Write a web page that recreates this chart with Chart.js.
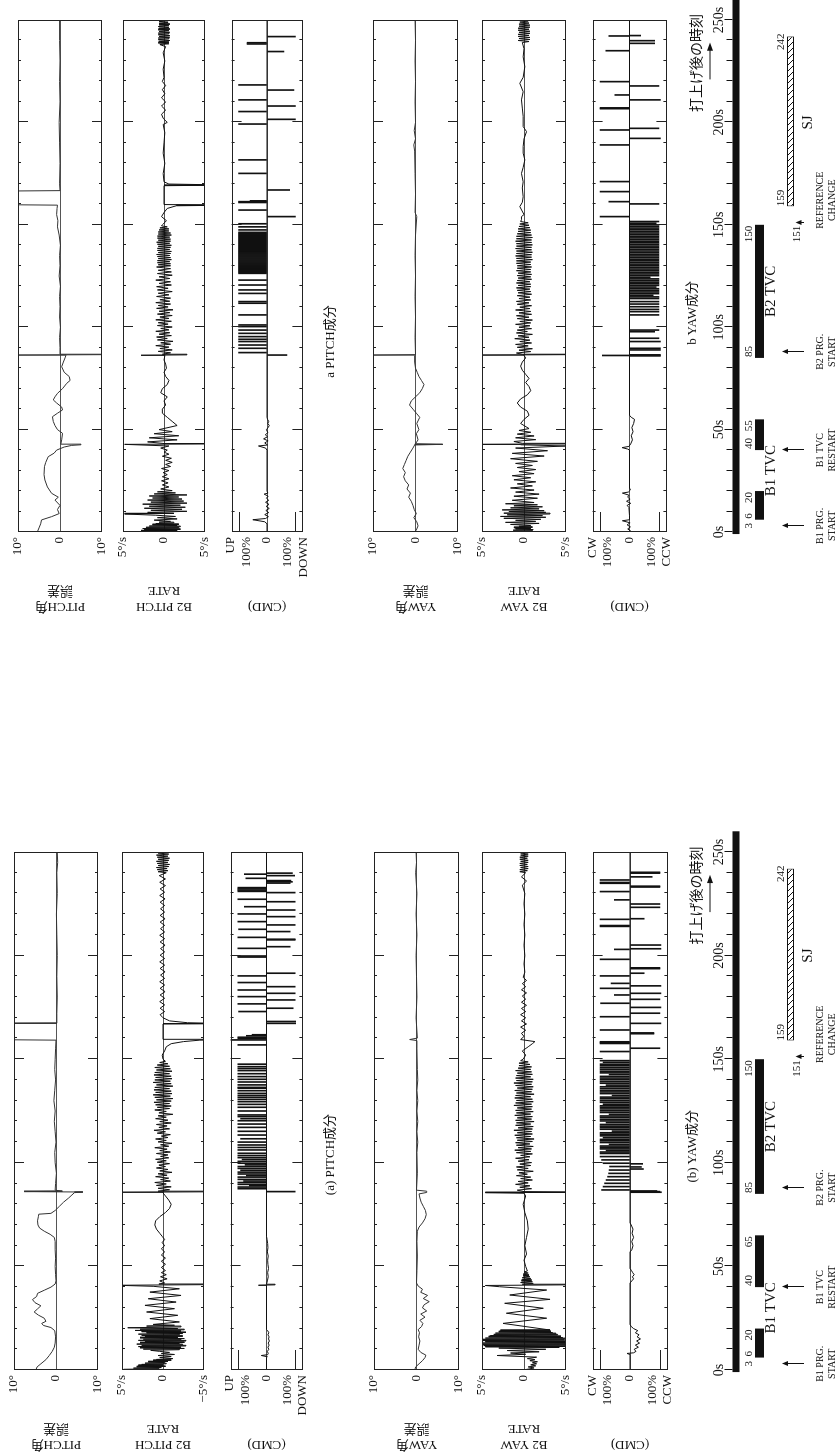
<!DOCTYPE html>
<html>
<head>
<meta charset="utf-8">
<script src="https://cdn.jsdelivr.net/npm/chart.js@4.4.1/dist/chart.umd.min.js"></script>
<style>
  body { margin: 0; background: #fff; }
  #page { position: relative; width: 836px; height: 1455px; overflow: hidden; background: #fff; }
  .fig { position: absolute; left: 106px; width: 624px; height: 836px; transform: rotate(-90deg); transform-origin: 312px 418px; }
  .fig canvas { position: absolute; left: 0; }
  .cap { position: absolute; transform: translate(-50%, -50%); white-space: nowrap; font: 13px 'Liberation Serif', 'Noto Sans CJK JP', serif; color: #111; }
</style>
</head>
<body>
<div id="page">
  <div class="fig" id="figB" style="top:-113px"></div>
  <div class="fig" id="figA" style="top:725px"></div>
</div>
<script>
// ---------- shared labels ----------
const timeLabelAt = [0, 50, 100, 150, 200, 250];
const timeLabels = ['0s', '50s', '100s', '150s', '200s', '250s'];
const eventLabels = [['B1 PRG.', 'START'], ['B1 TVC', 'RESTART'], ['B2 PRG.', 'START'], ['REFERENCE', 'CHANGE']];

// ---------- lower figure (A) ----------
const pitchErrA = [[0,4.8],[1.5,4.5],[3,3.6],[5,2.4],[7,1.6],[9,0.9],[11,0.4],[13,0.2],[16,0.1],[19,0.3],[20.5,1.2],[21.5,3],[22.5,3.4],[23.5,2.4],[25,2.8],[26.5,4.2],[28,5.2],[29.5,4.4],[31,3.6],[32.5,5],[34,5.6],[35.5,4.6],[37,4.4],[38.5,2.8],[40,1.2],[41.5,0.2],[43,0],[46,0.1],[50,0.2],[54,0.1],[58,0.2],[62,0.2],[64,0.4],[65.5,1.4],[67,2.8],[68.5,3.9],[70,4.3],[72,4.4],[74,4.2],[75.2,4.1],[75.6,1.2],[77,0.2],[79,-0.8],[81,-1.8],[83,-3],[84.5,-3.8],[85.6,-4.4],[85.9,-6.4],[86.1,7.6],[86.3,-1.5],[86.8,0.2],[90,0.1],[95,-0.1],[100,0.2],[105,0.3],[110,0],[115,0.2],[120,0.4],[125,0.2],[130,0.5],[135,0.3],[140,0.1],[145,0.3],[150,0.2],[155,0.1],[159.2,0],[159.4,12],[167.2,12],[167.4,-0.2],[172,-0.2],[180,-0.3],[190,-0.2],[200,-0.3],[210,-0.2],[220,-0.1],[230,-0.3],[240,-0.2],[245,-0.4],[250,-0.3]];

const pitchRateA = [[0,0],[0.3,4.8],[0.6,0.5],[0.9,3.6],[1.2,0.2],[1.5,3.2],[1.8,-0.3],[2.1,3],[2.4,0],[2.7,2.6],[3,-0.4],[3.3,2.2],[3.6,-0.2],[3.9,1.8],[4.2,-0.6],[4.5,1.2],[4.8,-1],[5.1,0.8],[5.5,-1.2],[6,0.4],[6.5,-1],[7,0.6],[7.5,-1.4],[8,0.2],[8.5,-0.8],[9,0.4],
[9.5,1.5],[9.8,-2],[10.1,2.4],[10.4,-2.6],[10.7,2.8],[11,-2.2],[11.3,3],[11.6,-2.8],[11.9,2.6],[12.2,-2.4],[12.5,3.2],[12.8,-2],[13.1,2.8],[13.4,-2.6],[13.7,2.2],[14,-2.8],[14.3,3],[14.6,-2.2],[14.9,2.4],[15.2,-2.6],[15.5,2.8],[15.8,-1.8],[16.1,2.2],[16.4,-2.4],[16.7,2.6],[17,-2],[17.3,3],[17.6,-2.4],[17.9,2],[18.2,-2.8],[18.5,2.6],[18.8,-2.2],[19.1,3.4],[19.4,-2.6],[19.7,2.8],[20,-1.8],[20.4,4.3],[20.8,-2.2],[21.2,2],[21.6,-1.4],[22,1.2],
[23.2,-2],[24.8,1.6],[26.4,-1.8],[28,2],[29.6,-1.4],[31.2,2.2],[32.8,-1.6],[34.4,1.8],[36,-2.2],[37.6,1.6],[39.2,-2],[40.4,1.2],[40.9,5.5],[41.2,-5.5],[41.5,0.5],
[42,-0.2],[43,0.4],[44,-0.5],[45,0.3],[46,-0.4],[47,0.2],[48,-0.3],[49.5,0.2],[51,-0.3],[52.5,0.2],[54,-0.3],[55.5,0.2],[57,-0.2],[58.5,0.2],[60,-0.2],[61.5,0.1],[63,-0.2],[64.5,0.1],
[66,0.4],[68,0.8],[70,1],[72,0.9],[74,0.4],[76,-0.3],[78,-0.8],[80,-1],[82,-0.7],[84,-0.3],[85.5,0],[85.8,5.5],[86,-5.5],[86.3,0.6],
[87,-0.8],[87.7,0.6],[88.4,-1],[89.1,0.8],[89.8,-0.4],[90.5,1],[91.2,-0.9],[91.9,0.3],[92.6,-0.7],[93.3,0.9],[94,-0.5],[94.7,0.6],[95.4,-1.1],[96.1,0.4],[96.8,-0.6],[97.5,0.8],[98.2,-0.3],[98.9,0.5],[99.6,-0.8],[100.3,0.7],[101,-0.4],[101.7,0.9],[102.4,-0.7],[103.1,0.3],[103.8,-0.6],[104.5,0.8],[105.2,-0.9],[105.9,0.4],[106.6,-0.5],[107.3,1],[108,-0.7],[108.7,0.3],[109.4,-1.1],[110.1,0.6],[110.8,-0.4],[111.5,0.9],[112.2,-0.6],[112.9,0.2],[113.6,-0.9],[114.3,0.7],[115,-0.3],[115.7,1.1],[116.4,-0.8],[117.1,0.5],[117.8,-0.5],[118.5,0.8],[119.2,-1],[119.9,0.4],[120.6,-0.6],[121.3,0.9],[122,-0.4],[122.7,0.6],[123.4,-1.2],[124.1,0.5],[124.8,-0.4],[125.5,1],[126.2,-0.8],[126.8,0.7],[127.4,-1],[128,0.9],[128.6,-0.8],[129.2,1.1],[129.8,-1],[130.4,0.8],[131,-1.2],[131.6,1],[132.2,-0.9],[132.8,1.2],[133.4,-1.1],[134,0.9],[134.6,-1],[135.2,1.1],[135.8,-0.8],[136.4,1],[137,-1.2],[137.6,0.8],[138.2,-1],[138.8,1.2],[139.4,-0.9],[140,1],[140.6,-1.1],[141.2,0.9],[141.8,-1],[142.4,1.1],[143,-0.8],[143.6,1],[144.2,-1.1],[144.8,0.8],[145.4,-0.9],[146,1],[146.6,-0.8],[147.2,0.7],[147.8,-0.6],[148.4,0.4],[149,-0.3],
[150,0],[152,0.1],[154,-0.2],[156,-0.4],[157.5,-1],[158.5,-2.5],[159.2,-4.5],[159.4,-8],[159.6,0],[167,0],[167.2,-8],[167.6,-3],[168.5,-0.8],[170,0],
[171.5,0.35],[173,-0.2],[174.6,0.35],[176.2,-0.2],[177.8,0.4],[179.4,-0.2],[181,0.35],[182.6,-0.25],[184.2,0.35],[185.8,-0.2],[187.4,0.4],[189,-0.2],[190.6,0.3],[192.2,-0.25],[193.8,0.35],[195.4,-0.2],[197,0.4],[198.6,-0.2],[200.2,0.35],[201.8,-0.2],[203.4,0.3],[205,-0.25],[206.6,0.35],[208.2,-0.2],[209.8,0.4],[211.4,-0.2],[213,0.3],[214.6,-0.2],[216.2,0.35],[217.8,-0.25],[219.4,0.35],[221,-0.2],[222.6,0.3],[224.2,-0.2],[225.8,0.35],[227.4,-0.25],[229,0.4],[230.6,-0.2],[232.2,0.35],[233.8,-0.3],[235.4,0.4],[237,-0.3],[238.6,0.45],[240,-0.4],
[240.5,0.6],[241,-0.6],[241.5,0.7],[242,-0.5],[242.5,0.8],[243,-0.7],[243.5,0.6],[244,-0.8],[244.5,0.7],[245,-0.6],[245.5,0.8],[246,-0.7],[246.5,0.6],[247,-0.8],[247.5,0.7],[248,-0.6],[248.5,0.8],[249,-0.7],[249.5,0.6],[250,-0.5]];

const pitchCmdA = [[0,0],[6,0],[6.4,-3],[7,18],[7.4,-4],[8,-6],[9,-3],[10,-8],[11,-5],[12,-9],[13,-6],[14,-10],[15,-7],[16,-9],[17,-5],[18,-8],[19,-4],[19.5,0],[40.6,0],[40.9,28],[41.1,-30],[41.4,0],[43,-3],[45,-6],[47,-4],[49,-7],[51,-5],[53,-4],[55,-6],[57,-3],[59,-5],[61,-4],[63,-2],[64.5,0],[250,0]];

const pitchPulseA = [[86.1,-100],[87.5,100],[88.3,100],[89,60],[89.6,100],[90.5,100],[91.2,80],[92,100],[93.1,100],[93.8,70],[94.6,100],[95.5,100],[96.4,90],[97.3,100],[98.2,100],[99,75],[99.8,100],[100.7,100],[101.6,85],[102.5,100],[103.5,100],[104.6,100],[106.2,100],[107.4,100],[108.6,100],[110,100],[111.6,90],[113.4,100],[115.2,100],[117.1,100],[118.7,100],[120.3,100],[121.3,90],[122.3,100],[123.1,100],[125,100],[126.8,100],[128.2,100],[129.5,100],[130.6,100],[131.6,100],[132.5,100],[133.5,100],[134.8,100],[136,100],[136.4,100],[137.6,100],[139,100],[140.3,100],[141.6,100],[143,100],[144.5,100],[145.5,100],[146.4,100],[147.6,100],
[156.9,100],[159.3,125],[160,100],[160.6,100],[161.3,70],[161.8,50],[167.3,-102],[168.2,-102],[173,97],[174.6,-93],[176.7,100],[178.6,-100],[180.2,100],[181.8,-100],[183.4,100],[185,-100],[187,100],[190.2,100],[191.5,-100],[199.3,100],[199.8,100],[203.5,100],[204.3,-82],[207.6,-100],[207.9,-100],[208.8,100],[211.6,-82],[212.7,97],[214.8,-100],[216.4,100],[218.8,-100],[220.1,100],[222,-100],[223.6,77],[226,-100],[227.2,100],[230.4,-100],[231,100],[231.6,100],[232.2,100],[232.8,100],[235,-82],[235.6,-90],[236.2,-85],[237.3,72],[238.6,-98],[239.3,77],[239.8,-90]];

const yawErrA = [[0,0.4],[1.5,0.2],[3,-0.6],[4.5,-1.4],[6,-2],[7.2,-2.2],[8.5,-1],[10,-0.4],[12,-0.6],[14,-0.8],[16,-0.5],[18,-0.7],[19.5,-0.4],[21,-1.2],[22.5,-1.5],[24,-0.8],[25.5,-2],[27,-1],[28.5,-2.4],[30,-1.4],[31.5,-1.8],[33,-3],[34.5,-1.6],[36,-2.6],[37.5,-1],[39,-1.4],[40.5,-0.4],[42,0],[48,-0.1],[55,-0.2],[62,-0.1],[67,-0.2],[69,-0.6],[71,-1.4],[73,-2],[75,-2.3],[77,-2.1],[79,-1.6],[81,-1.1],[83,-0.8],[85,-0.6],[85.7,-2.4],[86.3,-2.4],[86.8,0],[95,-0.2],[105,-0.1],[110,-0.3],[115,-0.1],[120,-0.3],[125,-0.1],[130,-0.3],[135,-0.1],[140,-0.3],[145,-0.2],[155,-0.1],[159,-0.1],[159.5,1.6],[160.2,-0.2],[170,0.1],[180,-0.1],[190,0],[200,0.1],[210,-0.1],[220,0.1],[230,-0.1],[240,0.2],[245,0],[250,0.1]];

const yawRateA = [[0,0.1],[0.5,-0.6],[1,-1.2],[1.5,-0.5],[2,-1.4],[2.5,-0.8],[3,-1.5],[3.5,-1],[4,-1.6],[4.5,-0.7],[5,-1.3],[5.5,-0.4],[6.2,-1.5],[7,3.2],[7.6,-0.2],[8.2,1.6],[8.8,-1.8],[9.4,2],[10,-2.6],[10.6,3],[10.9,-4.2],[11.2,4.6],[11.5,-5.2],[11.8,4.8],[12.1,-5.4],[12.4,5],[12.7,-5],[13,5.2],[13.3,-5.4],[13.6,4.6],[13.9,-5.2],[14.2,5],[14.5,-4.8],[14.8,5.2],[15.1,-5],[15.4,4.6],[15.7,-4.6],[16,4.2],[16.3,-4.4],[16.6,4],[16.9,-4],[17.2,3.6],[17.5,-3.8],[17.8,3.4],[18.1,-3.4],[18.4,3],[18.7,-3.2],[19,2.8],[19.3,-3.1],
[22.5,2.5],[25,-2.7],[27.4,2.1],[29.8,-2.3],[32.2,2.3],[34.1,-3.1],[36.2,1.7],[38.6,-2.7],[40.2,2.9],[40.8,4.6],[41.1,-5],[41.4,0.2],
[41.8,-1.1],[42.2,0.4],[42.6,-1],[43,0.3],[43.4,-0.9],[43.8,0.2],[44.2,-0.8],[44.6,0.2],[45,-0.7],[45.4,0.1],[45.8,-0.6],[46.3,0.1],[46.8,-0.5],[47.3,0],[47.8,-0.4],
[50,-0.2],[53,0],[56,-0.3],[60,-0.1],[64,-0.3],[68,-0.5],[72,-0.4],[76,-0.1],[80,0.1],[84,-0.2],[85.3,0],[85.6,4.6],[85.8,-5],[86.1,0],
[86.8,0.8],[87.5,-0.9],[88.2,0.5],[88.9,-0.7],[89.6,1],[90.3,-0.5],[91,0.7],[91.7,-1],[92.4,0.4],[93.1,-0.8],[93.8,0.9],[94.5,-0.4],[95.2,0.6],[95.9,-1.1],[96.6,0.8],[97.3,-0.5],[98,0.9],[98.7,-0.8],[99.4,0.5],[100.1,-0.9],[100.8,0.7],[101.5,-0.6],[102.2,1],[102.9,-0.7],[103.6,0.4],[104.3,-1],[104.9,0.9],[105.5,-0.8],[106.1,1.1],[106.7,-0.9],[107.3,0.7],[107.9,-1.1],[108.5,0.9],[109.1,-0.7],[109.7,1],[110.3,-1],[110.9,0.8],[111.5,-1.2],[112.1,0.9],[112.7,-0.8],[113.3,1.1],[113.9,-1],[114.5,0.8],[115.1,-0.9],[115.7,1.2],[116.3,-1],[116.9,0.7],[117.5,-1.1],[118.1,1],[118.7,-0.8],[119.3,0.9],[119.9,-1.2],[120.5,1],[121.1,-0.9],[121.7,0.8],[122.3,-1],[122.9,1.1],[123.5,-0.8],[124.1,0.9],[124.7,-1.1],[125.3,1],[125.9,-0.9],[126.5,0.8],[127.1,-1],[127.7,1.2],[128.3,-0.9],[128.9,1],[129.5,-1.1],[130.1,0.9],[130.7,-1],[131.3,1.1],[131.9,-0.8],[132.5,1],[133.1,-1.2],[133.7,0.9],[134.3,-0.9],[134.9,1.1],[135.5,-1],[136.1,0.8],[136.7,-1.1],[137.3,1],[137.9,-0.9],[138.5,1.2],[139.1,-1],[139.7,0.9],[140.3,-1.1],[140.9,1],[141.5,-0.8],[142.1,0.9],[142.7,-1],[143.3,0.8],[143.9,-0.9],[144.5,1],[145.1,-0.8],[145.7,0.7],[146.3,-0.9],[146.9,0.6],[147.5,-0.7],[148.1,0.6],[148.7,-0.5],[149.3,0.4],[150,0.1],
[152,-0.2],[154,0.2],[156,-0.5],[157.5,-1],[158.5,-1.3],[159.5,0.4],[161,0],[162.5,0.3],[164,-0.2],[165.5,0.4],[167,-0.3],[168.5,0.3],[170,-0.2],[171.5,0.4],[173,-0.2],[174.5,0.3],[176,-0.3],[177.5,0.3],[179,-0.2],[180.5,0.2],[182,-0.3],[183.5,0.3],[185,-0.2],[186.5,0.2],[188,-0.3],[189.5,0.1],[192,-0.1],[196,0],[200,-0.1],[205,0],[210,-0.1],[215,0],[220,-0.1],[225,0],[230,-0.1],[234,0.2],[236,-0.3],[238,0.3],[240,-0.2],[240.5,0.5],[241,-0.4],[241.5,0.5],[242,-0.5],[242.5,0.4],[243,-0.5],[243.5,0.5],[244,-0.4],[244.5,0.5],[245,-0.5],[245.5,0.4],[246,-0.5],[246.5,0.5],[247,-0.4],[247.5,0.5],[248,-0.5],[248.5,0.4],[249,-0.5],[249.5,0.4],[250,-0.3]];

const yawCmdA = [[0,0],[7.5,0],[8,10],[8.3,-12],[9,-20],[10,-14],[11,-28],[12,-18],[13,-32],[14,-22],[15,-35],[16,-24],[17,-30],[18,-18],[19,-26],[20,-12],[21,-4],[22,0],[42,0],[43,-6],[44,-12],[45,-8],[46,-14],[47,-9],[48,-5],[49,0],[57,0],[58,-6],[60,-10],[62,-6],[64,-12],[66,-7],[68,-10],[70,-4],[71,0],[250,0]];

const yawPulseA = [[85.8,-105],[86.1,-100],[86.4,-90],[86.9,95],[88.5,90],[90.1,85],[91.7,80],[93.3,75],[94.9,72],[96.5,70],[97,-45],[98,-38],[98.2,68],[99.5,-42],[99.8,90],[101.4,95],[103,100],
[104.5,100],[105.2,100],[105.9,80],[106.7,100],[107.4,100],[108.1,100],[108.9,70],[109.8,100],[110.6,100],[111.3,100],[112.1,90],[113,100],[113.8,100],[114.5,100],[115.3,60],[116.2,100],[117,100],[117.7,100],[118.5,100],[119.4,80],[120.2,100],[121,100],[121.9,100],[122.6,100],[123.4,70],[124.3,100],[125.1,100],[126,100],[126.8,100],[127.5,100],[128.3,90],[129.2,100],[130,100],[130.9,100],[131.7,100],[132.5,60],[133.4,100],[134.2,100],[135,100],[135.9,100],[136.7,100],[137.5,80],[138.4,100],[139.2,100],[140.1,100],[140.9,100],[141.7,100],[142.6,70],[143.4,100],[144.2,100],[145.1,100],[145.9,100],[146.8,100],[147.6,100],[148.5,90],[149.3,100],
[153.7,100],[155.3,-100],[157.6,100],[158,100],[158.4,100],[162.3,-80],[162.7,-80],[164.1,100],[167.3,-103],[170.5,100],[172.2,-100],[175,-103],[177,98],[178.9,-100],[181,52],[181.8,-103],[184.2,100],[185.4,-103],[186.6,63],[190.2,100],[191.5,-47],[193.7,-100],[194.1,-100],[198.2,100],[203,52],[203.3,-103],[205.1,-103],[214.1,100],[214.5,100],[217.5,100],[217.8,-47],[223.3,-100],[224.9,-100],[226.9,52],[230.9,100],[233.1,-100],[233.5,-100],[234.9,100],[235.3,100],[236.5,100],[238,-74],[239.8,-100],[240.2,-100]];

const b1TvcA = [[6, 20], [40, 65]];
const b2TvcA = [[85, 150]];
const sjA = [[159, 242]];
const eventTimesA = [3, 40, 88, 151];

// ---------- upper figure (B) ----------
const pitchErrB = [[0,5.4],[2,5],[4,4.6],[5.9,4.4],[7.5,2],[9,0.2],[11,0.6],[13,0],[15.6,1.2],[17,0.4],[18.9,2],[22,3],[25.4,3.6],[28,3.8],[31.9,3.7],[34,3.4],[36.8,2.8],[38.5,1.4],[40,0.8],[41.5,-1],[42.3,-2.8],[42.6,-5],[42.9,-0.2],[45,-0.4],[48.2,-0.6],[50,0.6],[52,1.2],[54,1.6],[56.3,1.8],[58,0.6],[59.6,-0.6],[61,-0.4],[63,0.8],[64.5,1.6],[66,1.2],[67.7,0.6],[70,-0.6],[72.6,-1.6],[74,-2.4],[75.9,-2.2],[78,-1],[80.7,-0.4],[83,-0.8],[85,-1.2],[86.2,-1.4],[86.4,10.5],[86.6,-10.5],[86.8,0],[90,0],[95,0.1],[100,-0.1],[105,0.1],[110,0],[115,0.1],[120,-0.1],[125,0.2],[130,0],[135,0.1],[140,-0.1],[145,0.2],[149,0.6],[152,0.5],[155,0.8],[158,0.7],[159.6,0.6],[159.8,12],[166.5,12],[166.7,0],[170,0.1],[180,0],[190,0.1],[200,0.2],[210,0],[220,0.1],[230,0],[240,0.1],[250,0.1]];

const pitchRateB = [[0.2,0],[0.5,2.8],[0.8,-1.6],[1.1,2.4],[1.4,-2],[1.7,2.6],[2,-1.8],[2.3,2.2],[2.6,-2],[2.9,1.8],[3.2,-1.6],[3.5,1.4],[3.8,-1.8],[4.1,1],[4.4,-1.2],[4.8,0.6],[5.2,-0.8],[5.8,1.2],[6.4,-1.6],[7,0.8],[7.6,-1.4],[8.2,1],[8.8,4.8],[9.1,-1.2],[9.6,2],[10.1,-2.8],[10.6,1.6],[11.1,-2.2],[11.6,2.4],[12.1,-2.6],[12.6,1.8],[13.1,-2],[13.6,2.6],[14.1,-2.8],[14.6,1.6],[15.1,-2.4],[15.6,2],[16.1,-2.2],[16.6,1.4],[17.1,-1.8],[17.6,1.8],[18.1,-2.8],[18.6,1.2],[19.1,-1.4],[19.6,0.8],[20.2,-1],[21,0.4],[22,-0.6],[23,0.2],[24,-0.5],[25,0.3],[26,-0.6],[27,0.2],[28,-0.4],[29,0.1],[30,-0.6],[31,0.3],[32,-0.8],[33,-0.2],[34,-1],[35,-0.2],[36,-0.9],[37,0.2],[38,-0.6],[39,0],[40,-0.4],[41,0.4],[42,-0.6],[42.8,4.8],[43,-5.2],[43.2,0],[44,2],[45,-1.6],[46,1.8],[47,-1.8],[48,1.2],[49,-1],[50,0.6],[52,-1.6],[54,-1],[56,-0.4],[58,0.2],[60,0.2],[62,-0.2],[64,0],[66,-0.4],[68,0.4],[70,0.2],[72,-0.4],[74,-0.6],[76,-0.2],[78,0],[80,-0.3],[82,-0.2],[84,0],[86,-0.1],[86.3,2.8],[86.5,-2.8],[86.8,0.2],
[87.5,-0.8],[88.2,0.7],[88.9,-1],[89.6,0.5],[90.3,-0.6],[91,1],[91.7,-0.8],[92.4,0.4],[93.1,-1.1],[93.8,0.8],[94.5,-0.4],[95.2,0.9],[95.9,-0.9],[96.6,0.6],[97.3,-0.7],[98,1],[98.7,-0.6],[99.4,0.4],[100.1,-1],[100.8,0.8],[101.5,-0.5],[102.2,0.7],[102.9,-0.9],[103.6,1],[104.3,-0.6],[105,0.5],[105.7,-1],[106.4,0.8],[107.1,-0.7],[107.8,0.6],[108.5,-1.1],[109.2,0.9],[109.9,-0.5],[110.6,0.7],[111.3,-0.8],[112,1],[112.7,-0.7],[113.4,0.5],[114.2,-0.8],[115,0.9],[115.8,-0.6],[116.6,0.7],[117.4,-1],[118.2,0.8],[119,-0.5],[119.8,0.9],[120.6,-0.9],[121.4,0.6],[122.2,-0.8],[123,1],[123.8,-0.7],[124.6,0.6],[125.4,-1],[126.2,0.8],[127,-0.9],[127.8,0.7],[128.6,-0.8],[129.4,0.9],[130,-0.8],[130.5,0.7],[131,-0.8],[131.5,0.8],[132,-0.7],[132.5,0.8],[133,-0.9],[133.5,0.7],[134,-0.8],[134.5,0.8],[135,-0.7],[135.5,0.9],[136,-0.8],[136.5,0.7],[137,-0.9],[137.5,0.8],[138,-0.7],[138.5,0.8],[139,-0.8],[139.5,0.7],[140,-0.9],[140.5,0.8],[141,-0.7],[141.5,0.9],[142,-0.8],[142.5,0.7],[143,-0.8],[143.5,0.8],[144,-0.7],[144.5,0.8],[145,-0.9],[145.5,0.7],[146,-0.8],[146.5,0.7],[147,-0.6],[147.5,0.6],[148,-0.6],[148.5,0.5],[149,-0.4],[149.5,0.3],
[150,0.2],[152,-0.3],[154,0.3],[156,0],[158,-0.4],[159.3,-1.5],[159.6,-8],[159.9,0],[169.1,0],[169.4,-8],[169.9,-0.6],[171,0],[175,0.1],[180,-0.1],[185,0.1],[190,0],[195,-0.1],[199,0.1],[200,-0.4],[202,0.1],[204,0.3],[206,-0.2],[208,0.3],[210,-0.2],[212,0.3],[214,-0.1],[216,0.2],[218,-0.2],[220,0.2],[222,0],[226,0.1],[230,-0.1],[234,0.1],[237,-0.2],[238,0.5],[238.4,-0.6],[238.8,0.7],[239.2,-0.6],[239.6,0.6],[240,-0.7],[240.4,0.7],[240.8,-0.6],[241.2,0.7],[241.6,-0.7],[242,0.6],[242.4,-0.7],[242.8,0.7],[243.2,-0.6],[243.6,0.7],[244,-0.7],[244.4,0.6],[244.8,-0.6],[245.2,0.7],[245.6,-0.7],[246,0.6],[246.4,-0.6],[246.8,0.7],[247.2,-0.6],[247.6,0.6],[248,-0.7],[248.4,0.6],[248.8,-0.5],[249.2,0.6],[249.6,-0.5],[250,0.3]];

const pitchCmdB = [[0,0],[4,0],[5,8],[6,50],[6.6,5],[7.5,-5],[8.5,8],[9.5,-6],[10.5,4],[11.5,-8],[12.5,3],[13.5,-7],[14.5,5],[15.5,-6],[16.5,2],[17.5,-4],[18.5,10],[19,-3],[20,0],[40,0],[41,5],[42,30],[42.5,-2],[43.5,8],[44.5,-4],[45.5,12],[46.5,-2],[47.5,6],[48.5,-3],[50,2],[51,-4],[52,-8],[53,-3],[54,-6],[55,-2],[56,0],[250,0]];

const pitchPulseB = [[86.4,-70],[87.6,100],[89.7,100],[91.3,100],[93,100],[94.1,100],[95.4,100],[97,100],[98.6,100],[100.3,100],[101.1,100],[106,100],[111.7,100],[112.5,100],[116.5,100],[118.2,100],[120.6,100],[123,100],[126.3,100],[126.8,100],[127.3,100],[127.8,100],[128.3,100],[128.8,100],[129.3,100],[129.8,100],[130.3,100],[130.8,100],[131.3,100],[131.8,100],[132.3,100],[132.8,100],[133.3,100],[133.8,100],[134.3,100],[134.8,100],[135.3,100],[135.8,100],[136.3,100],[136.8,100],[137.3,100],[137.8,100],[138.3,100],[138.8,100],[139.3,100],[139.8,100],[140.3,100],[140.8,100],[141.3,100],[141.8,100],[142.3,100],[142.8,100],[143.3,100],[143.8,100],[144.3,100],[144.8,100],[145.3,100],[145.8,100],[146.3,100],[147.5,100],[149,100],[150.5,100],[154,-100],[157.2,100],[160.9,100],[161.3,100],[161.7,60],[167,-80],[175.1,100],[181.7,100],[199.2,100],[201.5,-100],[205.3,100],[208,-100],[211,100],[215.8,-95],[218.3,100],[234.6,-60],[238.3,70],[238.9,70],[241.9,-100]];

const yawErrB = [[0,0.2],[1,-0.2],[3,-0.6],[5,-0.3],[7,0.4],[9,-0.2],[11,0.3],[13,0.6],[15,1],[17,1.6],[19,1.2],[21,2],[23,1.6],[25,2.4],[27,2.8],[29,2.4],[31,3],[33,2.6],[35,2.2],[37,1.8],[39,1.2],[41,0.6],[42.5,0.2],[42.8,-6.4],[43.1,0],[45,-0.6],[48,-0.2],[50,-0.8],[53,-0.3],[56,-1],[58,-0.2],[60,0.6],[62,1.4],[64,1],[66,0],[68,-1],[70,-1.6],[72,-2],[74,-1.4],[76,-0.8],[78,-0.4],[80,0],[83,0.2],[86.2,0.2],[86.4,10.5],[86.6,0],[95,0.1],[105,0],[115,0.1],[125,0],[135,0.1],[145,0],[154,-0.3],[156,0.1],[165,0],[175,0.1],[186,0.2],[189,0.4],[192,0],[196,0.3],[200,0],[210,0.1],[220,0],[230,0.1],[240,0],[250,0.1]];

const yawRateB = [[0,0.2],[0.3,1.2],[0.6,-1],[0.9,1.3],[1.2,-1.1],[1.5,1],[1.8,-0.8],[2.1,1.2],[2.4,-1],[2.8,0.6],[3.2,-0.8],[3.7,1.6],[4.2,-1.8],[4.7,2.2],[5.2,-1.4],[5.7,1],[6.2,-2],[6.7,2.4],[7.2,-2.6],[7.6,2.8],[8,-2.2],[8.4,2],[8.8,-3.1],[9.2,2.4],[9.6,-2.6],[10,1.8],[10.4,-2.4],[10.8,2.6],[11.3,-1.8],[11.8,1.6],[12.3,-2.2],[12.8,1.2],[13.3,-1.6],[13.8,2.2],[14.4,-1.2],[15.5,1.4],[16.5,-1.6],[17.5,1.2],[18.5,-1.8],[19.5,1],[20.5,-1.2],[21.5,1.6],[22.5,-1],[23.5,0.8],[24.5,-1.4],[25.5,1.2],[26.5,-0.8],[27.5,1.4],[28.5,-1.2],[29.5,0.6],[30.5,-1.4],[31.5,0.8],[32.5,-1],[33.5,1],[34.5,-1.6],[35.8,1.6],[37.1,-2.4],[38.4,1.4],[39.7,-2.8],[41,1],[42,-5],[42.6,0.4],[42.8,5],[43,-5],[43.3,0.2],[44.2,1.2],[45.1,-1.4],[46,1],[46.9,-1.2],[47.8,0.8],[48.7,-0.8],[49.6,0.6],[50.5,-0.6],[53,0.4],[55,0],[57,-0.6],[59,-0.4],[61,0.4],[63,0.8],[65,0.4],[67,-0.4],[69,-0.8],[71,-0.6],[73,-0.2],[75,-0.6],[77,-0.2],[79,0.2],[81,0.4],[83,0.2],[85,-0.2],[86.2,0],[86.4,5],[86.6,-5],[86.8,0.2],
[87.4,0.9],[88.1,-0.8],[88.8,0.6],[89.5,-1],[90.2,0.8],[90.9,-0.5],[91.6,1],[92.3,-0.9],[93,0.5],[93.7,-0.7],[94.4,1.1],[95.1,-0.6],[95.8,0.7],[96.5,-1],[97.2,0.9],[97.9,-0.4],[98.6,0.8],[99.3,-0.9],[100,0.6],[100.7,-0.7],[101.4,1],[102.1,-0.8],[102.8,0.5],[103.5,-1],[104.2,0.8],[104.9,-0.6],[105.6,0.9],[106.3,-0.9],[107,0.6],[107.7,-0.8],[108.4,1],[109.1,-0.7],[109.8,0.5],[110.5,-0.9],[111.2,0.8],[111.9,-0.6],[112.6,0.9],[113.3,-0.8],[114,0.6],[114.7,-0.7],[115.4,0.8],[116.1,-0.9],[116.8,0.7],[117.4,-0.8],[118,0.8],[118.6,-0.7],[119.2,0.9],[119.8,-0.8],[120.4,0.7],[121,-0.8],[121.6,0.9],[122.2,-0.7],[122.8,0.8],[123.4,-0.9],[124,0.7],[124.6,-0.8],[125.2,0.8],[125.8,-0.9],[126.4,0.7],[127,-0.8],[127.6,0.9],[128.2,-0.8],[128.8,0.8],[129.4,-0.9],[130,0.8],[130.6,-0.8],[131.2,0.9],[131.8,-0.8],[132.4,0.9],[133,-1],[133.6,0.9],[134.2,-0.9],[134.8,1],[135.4,-0.9],[136,0.9],[136.6,-1],[137.2,0.9],[137.8,-0.9],[138.4,1],[139,-0.9],[139.6,0.9],[140.2,-1],[140.8,0.9],[141.4,-0.9],[142,1],[142.6,-0.9],[143.2,0.9],[143.8,-1],[144.4,0.9],[145,-0.9],[145.6,0.8],[146.2,-0.8],[146.8,0.7],[147.4,-0.8],[148,0.7],[148.6,-0.7],[149.2,0.6],[149.8,-0.6],[150.4,0.5],[151,-0.5],[151.6,0.4],[152.5,0.3],[154,0.3],[155,0],
[158.9,0.5],[161,0.2],[163.7,0.1],[168,0.2],[171,0.1],[175.1,0.3],[178,0.1],[181.7,-0.1],[185,0.1],[188.2,0.1],[192,0],[195.5,-0.3],[198,0.1],[203,0.1],[207,0.2],[211,0.3],[215,0.1],[219.1,0.5],[222,0.1],[227.2,-0.1],[232,0.1],[236,0],[239,0.2],[239.5,-0.6],[240,0.7],[240.5,-0.7],[241,0.6],[241.5,-0.7],[242,0.7],[242.5,-0.6],[243,0.7],[243.5,-0.7],[244,0.6],[244.5,-0.7],[245,0.7],[245.5,-0.6],[246,0.7],[246.5,-0.7],[247,0.6],[247.5,-0.7],[248,0.6],[248.5,-0.6],[249,0.5],[249.5,-0.5],[250,0.3]];

const yawCmdB = [[0,0],[0.5,-4],[1.5,6],[2.5,-3],[3.5,8],[4.5,-2],[5.5,24],[6,0],[8,0],[12,2],[13,8],[14,-4],[15,10],[16,-2],[17,6],[18,2],[19,24],[19.5,4],[20.5,-3],[21.5,0],[40,0],[40.5,6],[41.2,25],[41.8,2],[43,-4],[45,-10],[47,-6],[49,-12],[51,-8],[53,-14],[55,-17],[56,-6],[57,0],[250,0]];

const yawPulseB = [[86,-105],[86.2,92],[86.5,-105],[88.9,-105],[89.7,-105],[93,-105],[94.6,-100],[97.8,-85],[98.6,-100],[106,-100],[107.6,-100],[108.7,-100],[110,-100],[111.3,-100],[112.5,-100],
[114,-100],[114.8,-100],[115.6,-80],[116.4,-100],[117.2,-100],[118,-100],[118.8,-100],[119.6,-90],[120.4,-100],[121.2,-100],[122,-100],[122.8,-100],[123.6,-100],[124.4,-70],[125.2,-100],[126,-100],[126.8,-100],[127.6,-100],[128.4,-100],[129.2,-100],[130,-100],[130.8,-100],[131.6,-100],[132.4,-100],[133.2,-100],[134,-100],[134.8,-100],[135.6,-100],[136.4,-100],[137.2,-100],[138,-100],[138.8,-100],[139.6,-100],[140.4,-100],[141.2,-100],[142,-100],[142.8,-100],[143.6,-100],[144.4,-100],[145.2,-100],[146,-100],[146.8,-100],[147.6,-100],[148.4,-100],[149.2,-100],[150,-100],[150.8,-90],[151.6,-100],
[154,100],[160.2,-100],[161.3,70],[166.2,100],[171.1,100],[189,100],[192.2,-105],[196.3,100],[197.1,-100],[206.7,100],[207.1,100],[211,-105],[213.4,50],[217.8,-100],[219.9,100],[235,80],[238.6,-85],[239.9,-85],[242.2,70],[242.4,-38]];

const b1TvcB = [[6, 20], [40, 55]];
const b2TvcB = [[85, 150]];
const sjB = [[159, 242]];
const eventTimesB = [3, 40, 88, 151];

// ---------- drawing ----------
const SERIF = "'Liberation Serif', 'Noto Sans CJK JP', serif";
const INK = '#111';
// rows of the time-line strip, in px across the (unrotated) figure
const TL = { top: 680, bottom: 836, cap: 697, arrow: 710, tickLab: 719, bar: 736, num: 749, tvc: 759.5, tvcLab: 771, sjNum: 781, sj: 790.5, evTop: 782, evBot: 804, n151: 797, sjLab: 808, ev1: 820, ev2: 832 };

function addCanvas(fig, top, h) {
  const c = document.createElement('canvas');
  c.width = 624;
  c.height = h;
  c.style.top = top + 'px';
  document.getElementById(fig.id).appendChild(c);
  return c;
}

const framePlugin = {
  id: 'frame',
  afterDatasetsDraw(chart, args, opts) {
    const { ctx, chartArea: a, scales: { x, y } } = chart;
    ctx.save();
    ctx.strokeStyle = '#222';
    ctx.lineWidth = 1;
    ctx.strokeRect(Math.round(a.left) + 0.5, Math.round(a.top) + 0.5, Math.round(a.width) - 1, Math.round(a.height) - 1);
    ctx.beginPath();
    for (let t = 10; t < 250; t += 10) {
      const px = Math.round(x.getPixelForValue(t)) + 0.5;
      const len = t % 50 === 0 ? 10 : 3;
      ctx.moveTo(px, a.top); ctx.lineTo(px, a.top + len);
      ctx.moveTo(px, a.bottom); ctx.lineTo(px, a.bottom - len);
    }
    (opts.marks || []).forEach(v => {
      const py = Math.round(y.getPixelForValue(v)) + 0.5;
      ctx.moveTo(a.left, py); ctx.lineTo(a.left + 20, py);
    });
    ctx.stroke();
    ctx.restore();
  }
};

function panel(fig, key, spec) {
  const [v0, v1] = fig.rows[key];
  const PAD = 16;
  const canvas = addCanvas(fig, v0 - PAD, v1 - v0 + 2 * PAD);
  const datasets = spec.lines.map(pts => ({
    type: 'line',
    data: pts.map(([t, v]) => ({ x: t, y: v })),
    borderColor: spec.color || INK, borderWidth: 1, pointRadius: 0, tension: 0
  }));
  if (spec.pulses) {
    datasets.push({
      type: 'bar',
      data: spec.pulses.map(([t, v]) => ({ x: t, y: v })),
      backgroundColor: INK, borderWidth: 0, barThickness: 1
    });
  }
  new Chart(canvas, {
    type: 'line',
    data: { datasets },
    options: {
      responsive: false, animation: false, devicePixelRatio: 1,
      layout: { padding: { top: PAD, bottom: PAD, left: 0, right: 624 - fig.u1 } },
      plugins: { legend: { display: false }, tooltip: { enabled: false }, frame: { marks: spec.marks } },
      scales: {
        x: { type: 'linear', min: 0, max: 250, display: false, offset: false },
        y: {
          min: spec.min, max: spec.max,
          afterFit: s => { s.width = fig.u0; },
          afterBuildTicks: s => { s.ticks = spec.tickVals.map(v => ({ value: v })); },
          ticks: { autoSkip: false, padding: 5, color: INK, font: { family: SERIF, size: 13 }, callback: (v, i) => spec.tickText[i] },
          grid: { drawTicks: false, lineWidth: 1, color: c => (c.tick && c.tick.value === 0) ? '#555' : 'rgba(0,0,0,0)' },
          border: { display: false },
          title: { display: true, text: spec.title, color: INK, font: { family: SERIF, size: 13 }, padding: { top: 3, bottom: 0 } }
        }
      }
    },
    plugins: [framePlugin]
  });
}

function hatchPattern() {
  const c = document.createElement('canvas');
  c.width = 6; c.height = 6;
  const g = c.getContext('2d');
  g.fillStyle = '#fff'; g.fillRect(0, 0, 6, 6);
  g.strokeStyle = INK; g.lineWidth = 1;
  g.beginPath();
  g.moveTo(0, 0); g.lineTo(6, 6);
  g.moveTo(-1, 5); g.lineTo(1, 7);
  g.moveTo(5, -1); g.lineTo(7, 1);
  g.stroke();
  return g.createPattern(c, 'repeat');
}

function timeline(fig, spec) {
  const canvas = addCanvas(fig, TL.top, TL.bottom - TL.top);
  const tlPlugin = {
    id: 'tl',
    afterDatasetsDraw(chart) {
      const { ctx, scales: { x, y } } = chart;
      const X = t => x.getPixelForValue(t), Y = v => y.getPixelForValue(v);
      ctx.save();
      ctx.strokeStyle = INK; ctx.fillStyle = INK; ctx.lineWidth = 1;
      // ticks above the time bar
      ctx.beginPath();
      for (let t = 0; t <= 250; t += 10) {
        const px = Math.round(X(t)) + 0.5;
        ctx.moveTo(px, Y(TL.bar - 3.5));
        ctx.lineTo(px, Y(TL.bar - 3.5 - (t % 50 === 0 ? 8 : 6)));
      }
      ctx.stroke();
      ctx.textBaseline = 'middle';
      ctx.textAlign = 'center';
      ctx.font = '14px ' + SERIF;
      timeLabelAt.forEach((t, i) => ctx.fillText(timeLabels[i], X(t), Y(TL.tickLab)));
      // caption with arrow
      ctx.fillText('打上げ後の時刻', X(229), Y(TL.cap));
      ctx.beginPath();
      ctx.moveTo(X(221), Y(TL.arrow)); ctx.lineTo(X(236), Y(TL.arrow));
      ctx.stroke();
      ctx.beginPath();
      ctx.moveTo(X(239), Y(TL.arrow)); ctx.lineTo(X(235), Y(TL.arrow - 3)); ctx.lineTo(X(235), Y(TL.arrow + 3));
      ctx.closePath(); ctx.fill();
      // numbers at the bar ends
      ctx.font = '11px ' + SERIF;
      spec.tvc.forEach(([s, e]) => {
        ctx.textAlign = 'left'; ctx.fillText(String(s), X(s) + 1, Y(TL.num));
        ctx.textAlign = 'right'; ctx.fillText(String(e), X(e) - 1, Y(TL.num));
      });
      ctx.textAlign = 'center';
      ctx.fillText(String(spec.events[0]), X(spec.events[0]), Y(TL.num));
      spec.sj.forEach(([s, e]) => {
        ctx.textAlign = 'left'; ctx.fillText(String(s), X(s), Y(TL.sjNum));
        ctx.textAlign = 'right'; ctx.fillText(String(e), X(e) + 3, Y(TL.sjNum));
      });
      ctx.textAlign = 'right';
      ctx.fillText(String(spec.events[3]), X(spec.events[3]) - 3, Y(TL.n151));
      // group labels
      ctx.textAlign = 'center';
      ctx.font = '15px ' + SERIF;
      ctx.fillText('B1 TVC', X(30), Y(TL.tvcLab));
      const b2 = spec.tvc[spec.tvc.length - 1];
      ctx.fillText('B2 TVC', X((b2[0] + b2[1]) / 2), Y(TL.tvcLab));
      ctx.fillText('SJ', X(200), Y(TL.sjLab));
      // event arrows and labels
      ctx.font = '10px ' + SERIF;
      spec.events.forEach((t, i) => {
        const px = Math.round(X(t)) + 0.5;
        const top = i === 3 ? TL.sj + 5 : TL.evTop;
        ctx.beginPath();
        ctx.moveTo(px, Y(TL.evBot)); ctx.lineTo(px, Y(top + 4));
        ctx.stroke();
        ctx.beginPath();
        ctx.moveTo(px, Y(top)); ctx.lineTo(px - 2.5, Y(top + 6)); ctx.lineTo(px + 2.5, Y(top + 6));
        ctx.closePath(); ctx.fill();
        const cx = X(i === 3 ? t + 11 : t);
        ctx.fillText(eventLabels[i][0], cx, Y(TL.ev1));
        ctx.fillText(eventLabels[i][1], cx, Y(TL.ev2));
      });
      ctx.restore();
    }
  };
  new Chart(canvas, {
    type: 'bar',
    data: {
      datasets: [
        { data: [{ y: TL.bar, x: [-1, 260] }], backgroundColor: INK, grouped: false, maxBarThickness: 7, clip: false },
        { data: spec.tvc.map(([s, e]) => ({ y: TL.tvc, x: [s, e] })), backgroundColor: INK, grouped: false, maxBarThickness: 9 },
        { data: spec.sj.map(([s, e]) => ({ y: TL.sj, x: [s, e] })), backgroundColor: hatchPattern(), borderColor: INK, borderWidth: 1, borderSkipped: false, grouped: false, maxBarThickness: 7 }
      ]
    },
    options: {
      indexAxis: 'y', responsive: false, animation: false, devicePixelRatio: 1,
      layout: { padding: { left: fig.u0, right: 624 - fig.u1, top: 0, bottom: 0 } },
      plugins: { legend: { display: false }, tooltip: { enabled: false } },
      scales: {
        x: { type: 'linear', min: 0, max: 250, display: false },
        y: { type: 'linear', min: TL.top, max: TL.bottom, reverse: true, display: false, offset: false }
      }
    },
    plugins: [tlPlugin]
  });
}

function caption(fig, text, t, v) {
  const d = document.createElement('div');
  d.className = 'cap';
  d.textContent = text;
  d.style.left = (fig.u0 + t * (fig.u1 - fig.u0) / 250) + 'px';
  d.style.top = v + 'px';
  document.getElementById(fig.id).appendChild(d);
}

function drawFigure(fig, d) {
  const errTicks = [-10, 0, 10], rateTicks = [-5, 0, 5], cmdTicks = [-100, 0, 100];
  panel(fig, 'pErr', { lines: [d.pitchErr], color: '#333', min: -10, max: 10, tickVals: errTicks, tickText: ['10°', '0', '10°'], title: ['PITCH角', '誤差'] });
  panel(fig, 'pRate', { lines: [d.pitchRate], min: -5, max: 5, tickVals: rateTicks, tickText: [d.minusRate, '0', '5°/s'], title: ['B2 PITCH', 'RATE'] });
  panel(fig, 'pCmd', { lines: [d.pitchCmd], pulses: d.pitchPulse, min: -125, max: 125, tickVals: cmdTicks, tickText: [['100%', 'DOWN'], '0', ['UP', '100%']], title: '(CMD)', marks: [-100, 100] });
  panel(fig, 'yErr', { lines: [d.yawErr], color: '#333', min: -10, max: 10, tickVals: errTicks, tickText: ['10°', '0', '10°'], title: ['YAW角', '誤差'] });
  panel(fig, 'yRate', { lines: [d.yawRate], min: -5, max: 5, tickVals: rateTicks, tickText: ['5°/s', '0', '5°/s'], title: ['B2 YAW', 'RATE'] });
  panel(fig, 'yCmd', { lines: [d.yawCmd], pulses: d.yawPulse, min: -125, max: 125, tickVals: cmdTicks, tickText: [['100%', 'CCW'], '0', ['CW', '100%']], title: '(CMD)', marks: [-100, 100] });
  timeline(fig, { tvc: d.b1.concat(d.b2), sj: d.sj, events: d.events });
  caption(fig, d.capA, d.capAt[0], 328);
  caption(fig, d.capB, d.capAt[1], 690);
}

const figA = { id: 'figA', u0: 85, u1: 603, rows: { pErr: [14, 98], pRate: [122, 204], pCmd: [226, 307], yErr: [374, 459], yRate: [482, 566], yCmd: [588, 672] } };
const figB = { id: 'figB', u0: 85, u1: 597, rows: { pErr: [18, 102], pRate: [123, 205], pCmd: [227, 307], yErr: [373, 458], yRate: [482, 566], yCmd: [588, 671] } };

drawFigure(figA, {
  pitchErr: pitchErrA, pitchRate: pitchRateA, pitchCmd: pitchCmdA, pitchPulse: pitchPulseA,
  yawErr: yawErrA, yawRate: yawRateA, yawCmd: yawCmdA, yawPulse: yawPulseA,
  b1: b1TvcA, b2: b2TvcA, sj: sjA, events: eventTimesA, minusRate: '−5°/s',
  capA: '(a)  PITCH成分', capB: '(b)  YAW成分', capAt: [104, 108]
});
drawFigure(figB, {
  pitchErr: pitchErrB, pitchRate: pitchRateB, pitchCmd: pitchCmdB, pitchPulse: pitchPulseB,
  yawErr: yawErrB, yawRate: yawRateB, yawCmd: yawCmdB, yawPulse: yawPulseB,
  b1: b1TvcB, b2: b2TvcB, sj: sjB, events: eventTimesB, minusRate: '5°/s',
  capA: 'a   PITCH成分', capB: 'b   YAW成分', capAt: [93, 107]
});
</script>
</body>
</html>
